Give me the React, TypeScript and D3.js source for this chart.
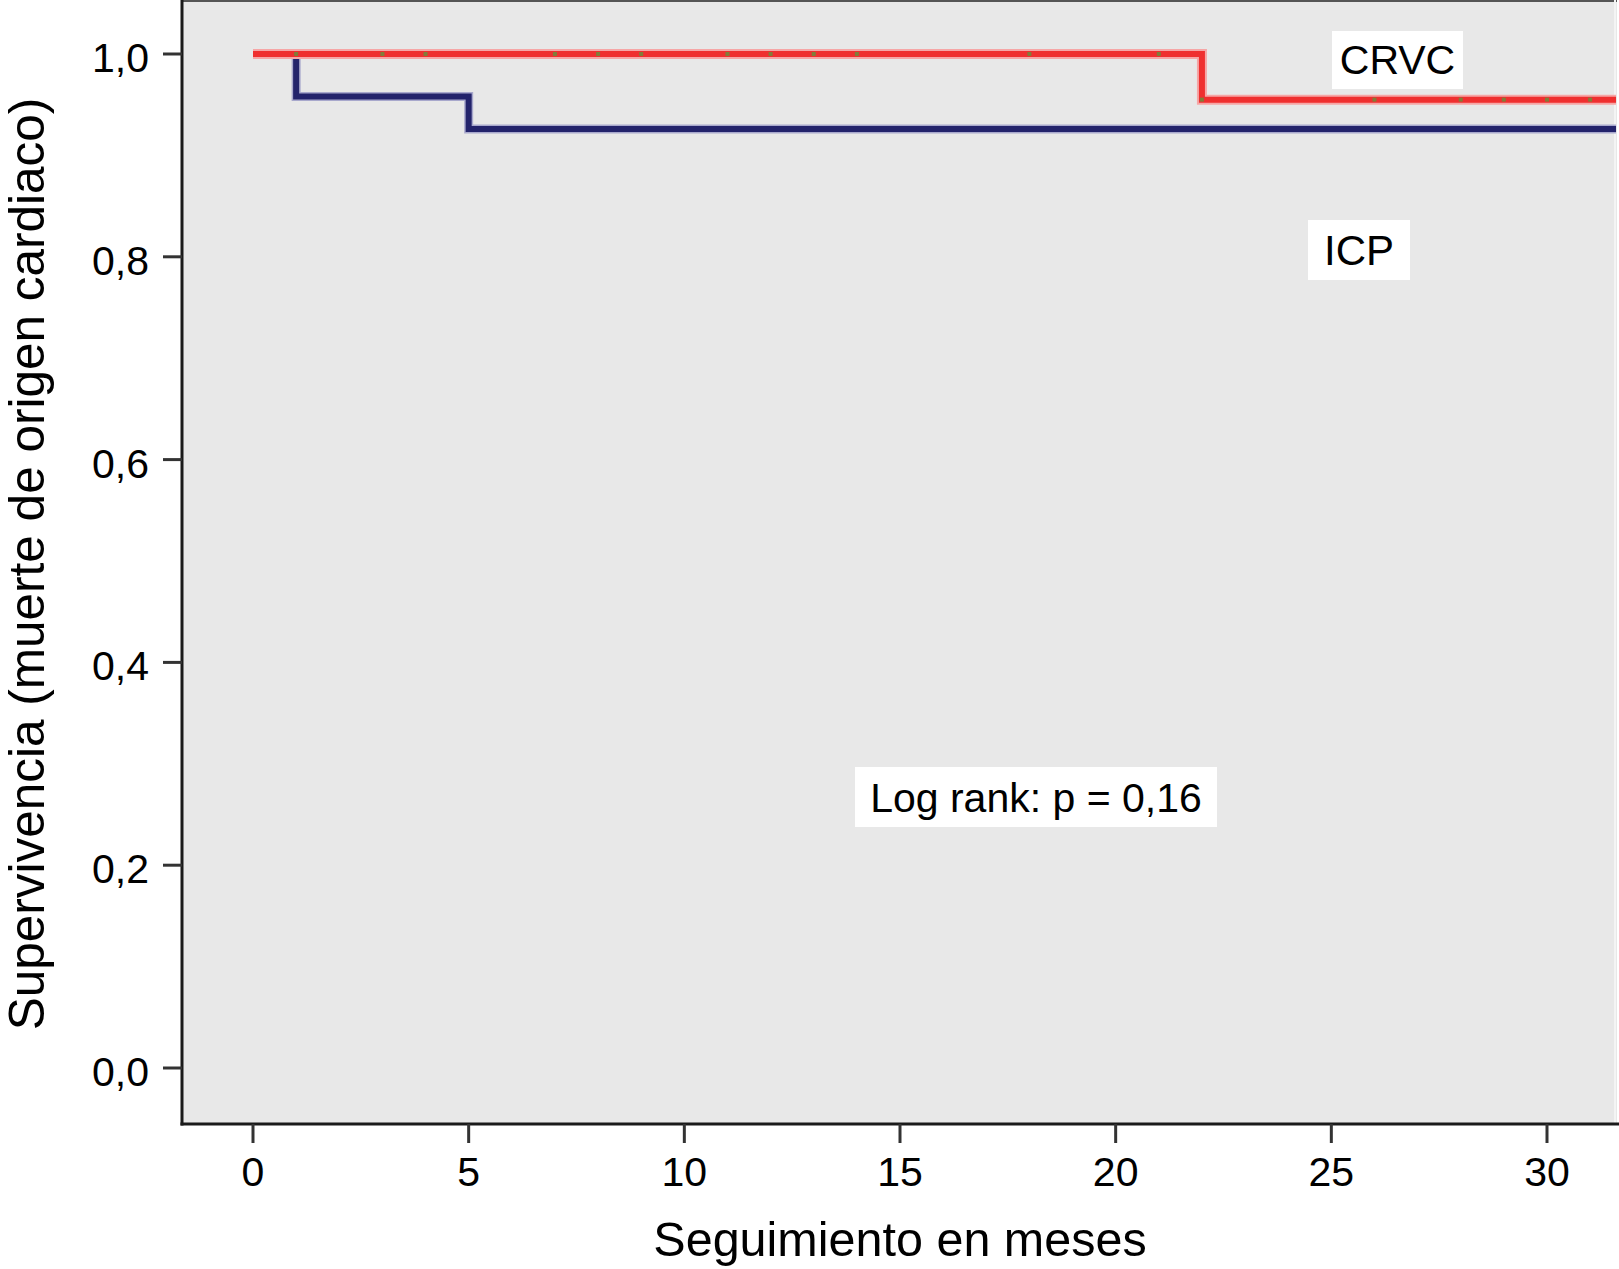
import React from "react";
import * as d3 from "d3";

// ---- Data ----
const xTicks = [0, 5, 10, 15, 20, 25, 30];
const yTicks = [0, 0.2, 0.4, 0.6, 0.8, 1.0];
const yTickLabels = ["0,0", "0,2", "0,4", "0,6", "0,8", "1,0"];

// Kaplan-Meier steps: [time, survival after time]
const crvcSteps: [number, number][] = [
  [0, 1.0],
  [22, 0.955],
  [31.6, 0.955],
];
const icpSteps: [number, number][] = [
  [0, 1.0],
  [1, 0.958],
  [5, 0.926],
  [31.6, 0.926],
];
const crvcCensored = [1, 3, 4, 7, 8, 9, 11, 12, 13, 14, 18, 21, 22, 26, 28, 29, 30, 31];

const xTitle = "Seguimiento en meses";
const yTitle = "Supervivencia (muerte de origen cardiaco)";
const labelCRVC = "CRVC";
const labelICP = "ICP";
const labelLogRank = "Log rank: p = 0,16";

const W = 1619;
const H = 1269;
const plotLeft = 182;
const plotRight = 1617;
const plotTop = 0;
const plotBottom = 1124;
const FONT = "'Liberation Sans', Arial, Helvetica, sans-serif";

export default function App() {
  const x = d3.scaleLinear().domain([0, 30]).range([253, 1547]);
  const y = d3.scaleLinear().domain([0, 1]).range([1068, 54]);

  const line = d3
    .line<[number, number]>()
    .x((d) => x(d[0]))
    .y((d) => y(d[1]))
    .curve(d3.curveStepAfter);

  const crvcPath = line(crvcSteps) || "";
  const icpPath = line(icpSteps) || "";

  const survAt = (steps: [number, number][], t: number) => {
    let s = steps[0][1];
    for (const [tt, v] of steps) if (t >= tt) s = v;
    return s;
  };

  const box = (cx: number, baseline: number, w: number, h: number, txt: string, fs: number) => (
    <g>
      <rect x={cx - w / 2} y={baseline - h + 15} width={w} height={h} fill="#ffffff" />
      <text x={cx} y={baseline} textAnchor="middle" fontSize={fs} fontFamily={FONT} fill="#000">
        {txt}
      </text>
    </g>
  );

  return (
    <svg
      width={W}
      height={H}
      style={{ position: "absolute", left: 0, top: 0, background: "#fff" }}
    >
      <defs>
        <clipPath id="plotclip">
          <rect x={plotLeft} y={plotTop} width={plotRight - plotLeft} height={plotBottom - plotTop} />
        </clipPath>
      </defs>
      <rect
        x={plotLeft}
        y={plotTop}
        width={plotRight - plotLeft}
        height={plotBottom - plotTop}
        fill="#e8e8e8"
      />
      {/* top & right border */}
      <line x1={plotLeft} x2={plotRight} y1={1} y2={1} stroke="#555" strokeWidth={2} />
      <line x1={1615} x2={1615} y1={0} y2={plotBottom} stroke="#f4f4f4" strokeWidth={2} />

      <g clipPath="url(#plotclip)">
        {/* ICP (navy) */}
        <path d={icpPath} fill="none" stroke="#a8a8cc" strokeWidth={9} strokeLinejoin="miter" />
        <path d={icpPath} fill="none" stroke="#23236b" strokeWidth={6} strokeLinejoin="miter" />
        {/* CRVC (red) */}
        <path d={crvcPath} fill="none" stroke="#f6a6a6" strokeWidth={10} strokeLinejoin="miter" />
        <path d={crvcPath} fill="none" stroke="#ef2f2f" strokeWidth={6} strokeLinejoin="miter" />
        {crvcCensored.map((t) => (
          <rect
            key={t}
            x={x(t) - 2}
            y={y(survAt(crvcSteps, t)) - 2}
            width={4}
            height={4}
            fill="#6e8a3a"
            opacity={0.85}
          />
        ))}
      </g>

      {/* Axes lines */}
      <line x1={plotLeft} x2={plotLeft} y1={0} y2={plotBottom + 1.5} stroke="#1a1a1a" strokeWidth={3} />
      <line x1={plotLeft - 1.5} x2={plotRight + 2} y1={plotBottom} y2={plotBottom} stroke="#1a1a1a" strokeWidth={3} />

      {/* Y ticks */}
      {yTicks.map((v, i) => (
        <g key={v}>
          <line x1={163} x2={plotLeft} y1={y(v)} y2={y(v)} stroke="#333" strokeWidth={3} />
          <text x={149} y={y(v) + 18} textAnchor="end" fontSize={41} fontFamily={FONT} fill="#000">
            {yTickLabels[i]}
          </text>
        </g>
      ))}

      {/* X ticks */}
      {xTicks.map((v) => (
        <g key={v}>
          <line x1={x(v)} x2={x(v)} y1={plotBottom} y2={1143} stroke="#333" strokeWidth={3} />
          <text x={x(v)} y={1186} textAnchor="middle" fontSize={41} fontFamily={FONT} fill="#000">
            {v}
          </text>
        </g>
      ))}

      {/* Titles */}
      <text x={900} y={1256} textAnchor="middle" fontSize={48.5} fontFamily={FONT} fill="#000">
        {xTitle}
      </text>
      <text
        transform="translate(44,564) rotate(-90)"
        textAnchor="middle"
        fontSize={49.5}
        fontFamily={FONT}
        fill="#000"
      >
        {yTitle}
      </text>

      {/* Annotations */}
      {box(1397.5, 74, 131, 58, labelCRVC, 41)}
      {box(1359, 265, 102, 60, labelICP, 42)}
      {box(1036, 812, 362, 60, labelLogRank, 41)}
    </svg>
  );
}
